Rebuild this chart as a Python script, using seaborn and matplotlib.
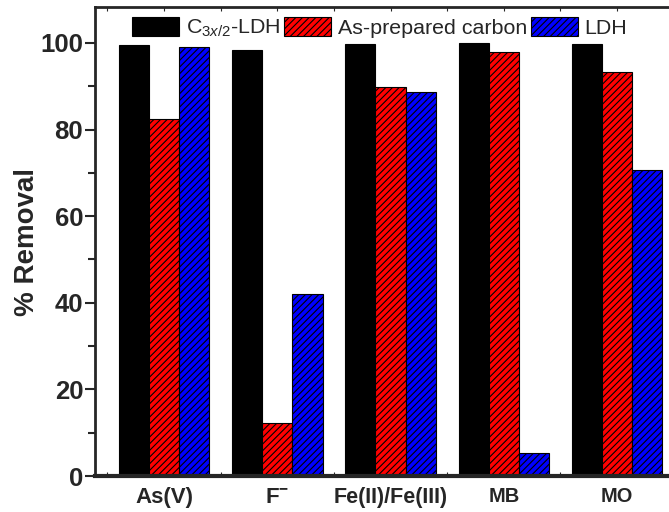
import pandas as pd
import matplotlib
matplotlib.use("Agg")
import matplotlib.pyplot as plt
import seaborn as sns
from matplotlib.patches import Patch
from matplotlib.ticker import MultipleLocator

sns.set_style("ticks")
plt.rcParams['font.family'] = ['Liberation Sans', 'DejaVu Sans']
plt.rcParams['mathtext.fontset'] = 'custom'
plt.rcParams['mathtext.rm'] = 'Liberation Sans'
plt.rcParams['mathtext.it'] = 'Liberation Sans:italic'
plt.rcParams['mathtext.bf'] = 'Liberation Sans:bold'
plt.rcParams['hatch.linewidth'] = 0.8

# Data
pollutants = ['As(V)', r'$\mathbf{F}^{\mathbf{-}}$', 'Fe(II)/Fe(III)', 'MB', 'MO']
label_sizes = [16, 16, 15.5, 14.4, 14.4]
materials = ['C$_{3x/2}$-LDH', 'As-prepared carbon', 'LDH']
c_ldh = [99.5, 98.3, 99.8, 100.0, 99.8]
carbon = [82.5, 12.2, 89.8, 98.0, 93.2]
ldh = [99.0, 42.0, 88.6, 5.3, 70.6]

colors = ['black', '#ff0000', '#0000ff']
hatches = ['', '/////', '/////']

df = pd.DataFrame({
    'pollutant': pollutants * 3,
    'material': [m for m in materials for _ in pollutants],
    'removal': c_ldh + carbon + ldh,
})

fig = plt.figure(figsize=(6.69, 5.12), dpi=100)
ax = fig.add_axes([95 / 669, 36 / 512, 590 / 669, 469 / 512])

sns.barplot(data=df, x='pollutant', y='removal', hue='material',
            order=pollutants, hue_order=materials, palette=colors,
            edgecolor='black', linewidth=0.8, saturation=1, legend=False, ax=ax)

for cont, h in zip(ax.containers, hatches):
    for bar in cont:
        bar.set_hatch(h)

ax.set_ylim(0, 108.3)
ax.set_xlim(-0.61, 4.6)
ax.yaxis.set_major_locator(MultipleLocator(20))
ax.yaxis.set_minor_locator(MultipleLocator(10))
ax.xaxis.set_minor_locator(MultipleLocator(0.5))
ax.tick_params(axis='y', which='major', direction='out', length=7, width=1.5,
               labelsize=18.5, pad=1.5)
ax.tick_params(axis='y', which='minor', direction='out', length=5, width=1.5)
ax.tick_params(axis='x', which='both', direction='in', length=3, width=0.8,
               top=True, pad=8)
for lab in ax.get_yticklabels():
    lab.set_fontweight('bold')
for lab, s in zip(ax.get_xticklabels(), label_sizes):
    lab.set_fontweight('bold')
    lab.set_fontsize(s)

ax.set_xlabel('')
ax.set_ylabel('% Removal', fontsize=20, fontweight='bold')
ax.yaxis.set_label_coords(-0.094, 0.5)

for side in ['left', 'top']:
    ax.spines[side].set_linewidth(2)
ax.spines['bottom'].set_linewidth(3)
ax.spines['right'].set_visible(False)
ax.spines['top'].set_visible(True)

handles = [Patch(facecolor=c, edgecolor='black', hatch=h, linewidth=0.8)
           for c, h in zip(colors, hatches)]
fig.legend(handles, materials, loc='center left',
           bbox_to_anchor=(132 / 669, 1 - 28 / 512), ncol=3, frameon=False,
           fontsize=15.4, handlelength=2.2, handleheight=1.03,
           handletextpad=0.33, columnspacing=0.15, borderpad=0, borderaxespad=0)

fig.savefig('out.png', dpi=100)
